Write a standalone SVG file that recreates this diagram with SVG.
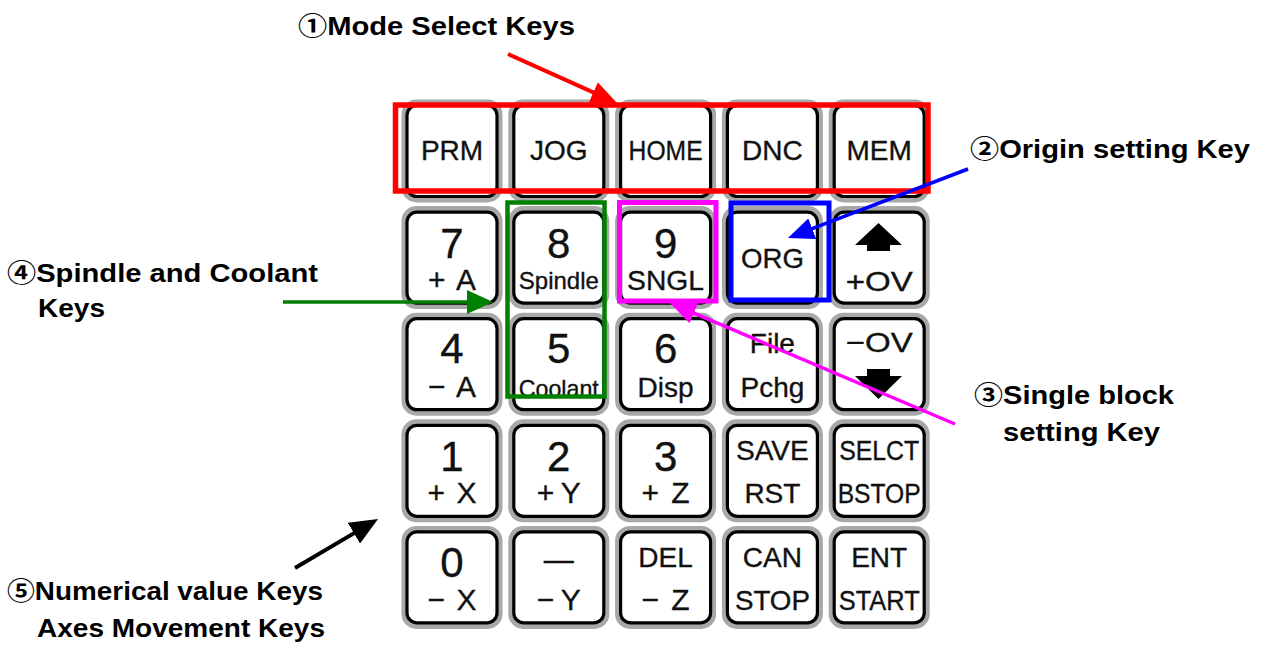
<svg xmlns="http://www.w3.org/2000/svg" width="1262" height="646" viewBox="0 0 1262 646">
<style>
.halo{fill:#a8a8a8}
.key{fill:#fff;stroke:#000;stroke-width:3.2}
.kt{font-family:"Liberation Sans","Noto Sans CJK JP",sans-serif;fill:#111;stroke:#111;stroke-width:0.35;text-anchor:middle}
.d{font-size:42px}
.s{font-size:28px}
.ax{font-size:30px}
.m{font-size:24px}
.lbl{font-family:"Liberation Sans","Noto Sans CJK JP",sans-serif;font-weight:bold;font-size:25px;fill:#000}
.box{fill:none}
.conn{fill:none}
</style>
<defs>
<marker id="ah-red" markerUnits="userSpaceOnUse" markerWidth="26" markerHeight="22" refX="14" refY="11" orient="auto"><path d="M0,0 L26,11 L0,22 z" fill="#ff0000"/></marker>
<marker id="ah-blue" markerUnits="userSpaceOnUse" markerWidth="26" markerHeight="22" refX="14" refY="11" orient="auto"><path d="M0,0 L26,11 L0,22 z" fill="#0000ff"/></marker>
<marker id="ah-mag" markerUnits="userSpaceOnUse" markerWidth="26" markerHeight="22" refX="14" refY="11" orient="auto"><path d="M0,0 L26,11 L0,22 z" fill="#ff00ff"/></marker>
<marker id="ah-green" markerUnits="userSpaceOnUse" markerWidth="26" markerHeight="24" refX="14" refY="12" orient="auto"><path d="M0,0 L26,12 L0,24 z" fill="#008000"/></marker>
<marker id="ah-black" markerUnits="userSpaceOnUse" markerWidth="28" markerHeight="24" refX="16" refY="12" orient="auto"><path d="M0,0 L28,12 L0,24 z" fill="#000"/></marker>
</defs>
<rect width="1262" height="646" fill="#fff"/>

<!-- Row 1 -->
<g id="key-prm"><rect class="halo" x="401.5" y="99.5" width="101" height="103" rx="15"/><rect class="key" x="407" y="105.5" width="90" height="91" rx="10"/><text class="kt s" x="452" y="160">PRM</text></g>
<g id="key-jog"><rect class="halo" x="508.3" y="99.5" width="101" height="103" rx="15"/><rect class="key" x="513.8" y="105.5" width="90" height="91" rx="10"/><text class="kt s" x="558.8" y="160">JOG</text></g>
<g id="key-home"><rect class="halo" x="615.1" y="99.5" width="101" height="103" rx="15"/><rect class="key" x="620.6" y="105.5" width="90" height="91" rx="10"/><text class="kt s" x="665.6" y="160" textLength="74" lengthAdjust="spacingAndGlyphs">HOME</text></g>
<g id="key-dnc"><rect class="halo" x="721.9" y="99.5" width="101" height="103" rx="15"/><rect class="key" x="727.4" y="105.5" width="90" height="91" rx="10"/><text class="kt s" x="772.4" y="160">DNC</text></g>
<g id="key-mem"><rect class="halo" x="828.7" y="99.5" width="101" height="103" rx="15"/><rect class="key" x="834.2" y="105.5" width="90" height="91" rx="10"/><text class="kt s" x="879.2" y="160">MEM</text></g>

<!-- Row 2 -->
<g id="key-7"><rect class="halo" x="401.5" y="206.1" width="101" height="103" rx="15"/><rect class="key" x="407" y="212.1" width="90" height="91" rx="10"/><text class="kt d" x="452" y="257.6">7</text><text class="kt ax" x="452" y="290" textLength="48" lengthAdjust="spacing">+A</text></g>
<g id="key-8"><rect class="halo" x="508.3" y="206.1" width="101" height="103" rx="15"/><rect class="key" x="513.8" y="212.1" width="90" height="91" rx="10"/><text class="kt d" x="558.8" y="257.6">8</text><text class="kt m" x="558.8" y="289" textLength="80" lengthAdjust="spacingAndGlyphs">Spindle</text></g>
<g id="key-9"><rect class="halo" x="615.1" y="206.1" width="101" height="103" rx="15"/><rect class="key" x="620.6" y="212.1" width="90" height="91" rx="10"/><text class="kt d" x="665.6" y="257.6">9</text><text class="kt s" x="665.6" y="290" textLength="77" lengthAdjust="spacingAndGlyphs">SNGL</text></g>
<g id="key-org"><rect class="halo" x="721.9" y="206.1" width="101" height="103" rx="15"/><rect class="key" x="727.4" y="212.1" width="90" height="91" rx="10"/><text class="kt s" x="772.4" y="268" textLength="63" lengthAdjust="spacingAndGlyphs">ORG</text></g>
<g id="key-plusov"><rect class="halo" x="828.7" y="206.1" width="101" height="103" rx="15"/><rect class="key" x="834.2" y="212.1" width="90" height="91" rx="10"/><path d="M855,245 L878.5,223 L902,245 L890,245 L890,251 L867,251 L867,245 z" fill="#000"/><text class="kt s" x="879.2" y="291" textLength="67" lengthAdjust="spacingAndGlyphs">+OV</text></g>

<!-- Row 3 -->
<g id="key-4"><rect class="halo" x="401.5" y="312.7" width="101" height="103" rx="15"/><rect class="key" x="407" y="318.7" width="90" height="91" rx="10"/><text class="kt d" x="452" y="363">4</text><text class="kt ax" x="452" y="397" textLength="48" lengthAdjust="spacing">−A</text></g>
<g id="key-5"><rect class="halo" x="508.3" y="312.7" width="101" height="103" rx="15"/><rect class="key" x="513.8" y="318.7" width="90" height="91" rx="10"/><text class="kt d" x="558.8" y="363">5</text><text class="kt m" x="558.8" y="397" textLength="80" lengthAdjust="spacingAndGlyphs">Coolant</text></g>
<g id="key-6"><rect class="halo" x="615.1" y="312.7" width="101" height="103" rx="15"/><rect class="key" x="620.6" y="318.7" width="90" height="91" rx="10"/><text class="kt d" x="665.6" y="363">6</text><text class="kt s" x="665.6" y="397">Disp</text></g>
<g id="key-file"><rect class="halo" x="721.9" y="312.7" width="101" height="103" rx="15"/><rect class="key" x="727.4" y="318.7" width="90" height="91" rx="10"/><text class="kt s" x="772.4" y="353">File</text><text class="kt s" x="772.4" y="397">Pchg</text></g>
<g id="key-minusov"><rect class="halo" x="828.7" y="312.7" width="101" height="103" rx="15"/><rect class="key" x="834.2" y="318.7" width="90" height="91" rx="10"/><text class="kt s" x="879.2" y="352" textLength="67" lengthAdjust="spacingAndGlyphs">−OV</text><path d="M867,369 L890,369 L890,376 L902,376 L878.5,399 L855,376 L867,376 z" fill="#000"/></g>

<!-- Row 4 -->
<g id="key-1"><rect class="halo" x="401.5" y="419.3" width="101" height="103" rx="15"/><rect class="key" x="407" y="425.3" width="90" height="91" rx="10"/><text class="kt d" x="452" y="471">1</text><text class="kt ax" x="452" y="503.3" textLength="49" lengthAdjust="spacing">+X</text></g>
<g id="key-2"><rect class="halo" x="508.3" y="419.3" width="101" height="103" rx="15"/><rect class="key" x="513.8" y="425.3" width="90" height="91" rx="10"/><text class="kt d" x="558.8" y="471">2</text><text class="kt ax" x="558.8" y="503.3" textLength="44" lengthAdjust="spacing">+Y</text></g>
<g id="key-3"><rect class="halo" x="615.1" y="419.3" width="101" height="103" rx="15"/><rect class="key" x="620.6" y="425.3" width="90" height="91" rx="10"/><text class="kt d" x="665.6" y="471">3</text><text class="kt ax" x="665.6" y="503.3" textLength="48" lengthAdjust="spacing">+Z</text></g>
<g id="key-save"><rect class="halo" x="721.9" y="419.3" width="101" height="103" rx="15"/><rect class="key" x="727.4" y="425.3" width="90" height="91" rx="10"/><text class="kt s" x="772.4" y="460" textLength="73" lengthAdjust="spacingAndGlyphs">SAVE</text><text class="kt s" x="772.4" y="503.3">RST</text></g>
<g id="key-selct"><rect class="halo" x="828.7" y="419.3" width="101" height="103" rx="15"/><rect class="key" x="834.2" y="425.3" width="90" height="91" rx="10"/><text class="kt s" x="879.2" y="460" textLength="80" lengthAdjust="spacingAndGlyphs">SELCT</text><text class="kt s" x="879.2" y="503.3" textLength="83" lengthAdjust="spacingAndGlyphs">BSTOP</text></g>

<!-- Row 5 -->
<g id="key-0"><rect class="halo" x="401.5" y="525.9" width="101" height="103" rx="15"/><rect class="key" x="407" y="531.9" width="90" height="91" rx="10"/><text class="kt d" x="452" y="577">0</text><text class="kt ax" x="452" y="609.9" textLength="49" lengthAdjust="spacing">−X</text></g>
<g id="key-dash"><rect class="halo" x="508.3" y="525.9" width="101" height="103" rx="15"/><rect class="key" x="513.8" y="531.9" width="90" height="91" rx="10"/><text class="kt" style="font-size:30px" x="558.8" y="570">—</text><text class="kt ax" x="558.8" y="609.9" textLength="44" lengthAdjust="spacing">−Y</text></g>
<g id="key-del"><rect class="halo" x="615.1" y="525.9" width="101" height="103" rx="15"/><rect class="key" x="620.6" y="531.9" width="90" height="91" rx="10"/><text class="kt s" x="665.6" y="567">DEL</text><text class="kt ax" x="665.6" y="609.9" textLength="48" lengthAdjust="spacing">−Z</text></g>
<g id="key-can"><rect class="halo" x="721.9" y="525.9" width="101" height="103" rx="15"/><rect class="key" x="727.4" y="531.9" width="90" height="91" rx="10"/><text class="kt s" x="772.4" y="567">CAN</text><text class="kt s" x="772.4" y="609.9" textLength="75" lengthAdjust="spacingAndGlyphs">STOP</text></g>
<g id="key-ent"><rect class="halo" x="828.7" y="525.9" width="101" height="103" rx="15"/><rect class="key" x="834.2" y="531.9" width="90" height="91" rx="10"/><text class="kt s" x="879.2" y="567">ENT</text><text class="kt s" x="879.2" y="609.9" textLength="81" lengthAdjust="spacingAndGlyphs">START</text></g>

<!-- Highlight boxes -->
<g id="box-mode"><rect class="box" x="395.5" y="105" width="532.5" height="86" stroke="#ff0000" stroke-width="5.5"/></g>
<g id="box-spindle"><rect class="box" x="507.5" y="202.5" width="97" height="194" stroke="#008000" stroke-width="4.5"/></g>
<g id="box-sngl"><rect class="box" x="619.5" y="202.5" width="96.5" height="98.5" stroke="#ff00ff" stroke-width="5"/></g>
<g id="box-org"><rect class="box" x="731" y="203" width="98" height="97" stroke="#0000ff" stroke-width="5"/></g>

<!-- Labels -->
<g id="label-1"><text class="lbl" x="298" y="35" textLength="277" lengthAdjust="spacingAndGlyphs">①Mode Select Keys</text></g>
<g id="label-2"><text class="lbl" x="970" y="158" textLength="280" lengthAdjust="spacingAndGlyphs">②Origin setting Key</text></g>
<g id="label-3"><text class="lbl" x="974" y="404" textLength="200" lengthAdjust="spacingAndGlyphs">③Single block</text><text class="lbl" x="1003" y="441" textLength="157" lengthAdjust="spacingAndGlyphs">setting Key</text></g>
<g id="label-4"><text class="lbl" x="7" y="282" textLength="311" lengthAdjust="spacingAndGlyphs">④Spindle and Coolant</text><text class="lbl" x="38" y="317" textLength="67" lengthAdjust="spacingAndGlyphs">Keys</text></g>
<g id="label-5"><text class="lbl" x="7" y="600" textLength="316" lengthAdjust="spacingAndGlyphs">⑤Numerical value Keys</text><text class="lbl" x="37" y="637" textLength="288" lengthAdjust="spacingAndGlyphs">Axes Movement Keys</text></g>

<!-- Connectors -->
<g id="connectors">
<line class="conn" x1="508" y1="54" x2="606.1" y2="98.1" stroke="#ff0000" stroke-width="4" marker-end="url(#ah-red)"/>
<line class="conn" x1="968" y1="169" x2="799.2" y2="233.7" stroke="#0000ff" stroke-width="3.5" marker-end="url(#ah-blue)"/>
<line class="conn" x1="955" y1="424" x2="681" y2="307.7" stroke="#ff00ff" stroke-width="3.5" marker-end="url(#ah-mag)"/>
<line class="conn" x1="283" y1="302" x2="481" y2="302" stroke="#008000" stroke-width="3.5" marker-end="url(#ah-green)"/>
<line class="conn" x1="295" y1="568" x2="367.7" y2="525.1" stroke="#000" stroke-width="4" marker-end="url(#ah-black)"/>
</g>
</svg>
